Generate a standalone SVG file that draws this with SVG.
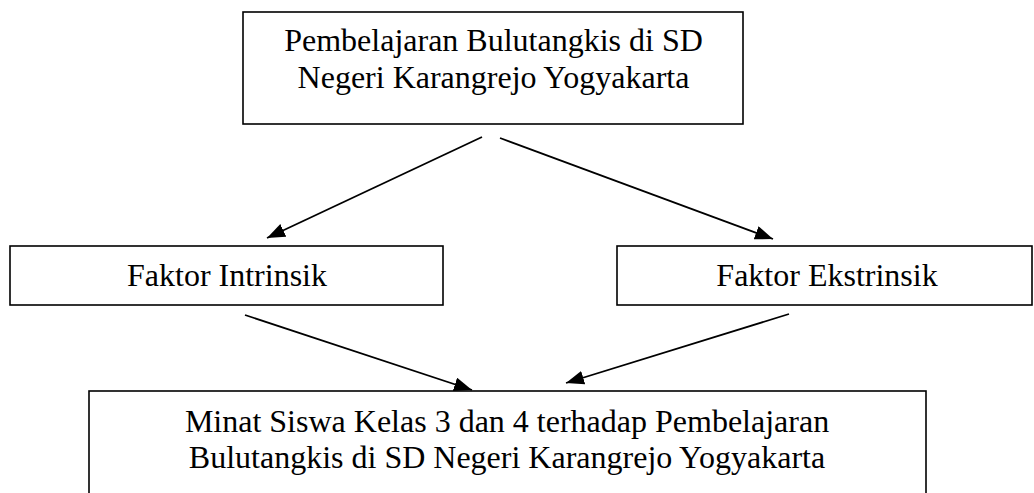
<svg xmlns="http://www.w3.org/2000/svg" width="1034" height="493" viewBox="0 0 1034 493">
  <style>
    .box { fill: #ffffff; stroke: #000000; stroke-width: 1.6; }
    .lbl { font-family: "Liberation Serif", "Times New Roman", serif; font-size: 32px; fill: #000000; text-anchor: middle; }
    .edge { stroke: #000000; stroke-width: 1.8; fill: none; marker-end: url(#arrow); }
  </style>
  <defs>
    <marker id="arrow" viewBox="0 0 18 14" refX="18" refY="7" markerWidth="18" markerHeight="14" markerUnits="userSpaceOnUse" orient="auto">
      <path d="M0,0 L18,7 L0,14 z" fill="#000000"/>
    </marker>
  </defs>
  <rect width="1034" height="493" fill="#ffffff"/>

  <g id="node-pembelajaran">
    <rect class="box" x="243" y="12" width="500" height="112"/>
    <text class="lbl" x="493.5" y="51">Pembelajaran Bulutangkis di SD</text>
    <text class="lbl" x="493.5" y="88">Negeri Karangrejo Yogyakarta</text>
  </g>

  <g id="node-intrinsik">
    <rect class="box" x="10" y="246" width="433" height="59"/>
    <text class="lbl" x="227" y="286">Faktor Intrinsik</text>
  </g>

  <g id="node-ekstrinsik">
    <rect class="box" x="617" y="246" width="415" height="59"/>
    <text class="lbl" x="827" y="286">Faktor Ekstrinsik</text>
  </g>

  <g id="node-minat">
    <rect class="box" x="89" y="391" width="837" height="130"/>
    <text class="lbl" x="507" y="432">Minat Siswa Kelas 3 dan 4 terhadap Pembelajaran</text>
    <text class="lbl" x="507" y="468">Bulutangkis di SD Negeri Karangrejo Yogyakarta</text>
  </g>

  <g id="connectors">
    <line class="edge" x1="482" y1="137" x2="267" y2="238"/>
    <line class="edge" x1="500" y1="138" x2="773" y2="239"/>
    <line class="edge" x1="245" y1="315" x2="472" y2="390"/>
    <line class="edge" x1="789" y1="314" x2="566" y2="383"/>
  </g>
</svg>
